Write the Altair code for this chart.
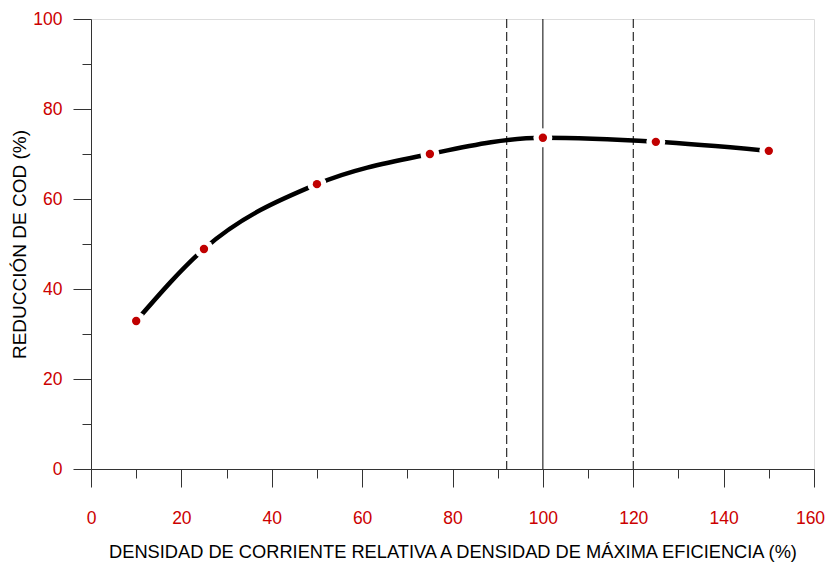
import altair as alt
import pandas as pd

# Data
x_vals = [10, 25, 50, 75, 100, 125, 150]
y_vals = [32.9, 48.9, 63.3, 70.0, 73.6, 72.7, 70.7]
dashed_lines = [92, 120]
solid_lines = [100]
x_ticks = list(range(0, 161, 10))
y_ticks = list(range(0, 101, 10))

x_title = "DENSIDAD DE CORRIENTE RELATIVA A DENSIDAD DE MÁXIMA EFICIENCIA (%)"
y_title = "REDUCCIÓN DE COD (%)"

df = pd.DataFrame({"x": x_vals, "y": y_vals})
df_dash = pd.DataFrame({"x": dashed_lines})
df_solid = pd.DataFrame({"x": solid_lines})

FONT = "Liberation Sans"
RED = "#cc0000"
major = lambda step: {"condition": {"test": f"datum.value % {step} === 0", "value": 18}, "value": 9}

x_scale = alt.Scale(domain=[0, 160], nice=False, zero=False)
y_scale = alt.Scale(domain=[0, 100], nice=False, zero=False)

x_axis = alt.Axis(
    values=x_ticks,
    tickSize=major(20),
    labelExpr="datum.value % 20 === 0 ? datum.label : ''",
    labelColor=RED, labelFont=FONT, labelFontSize=17.5,
    labelPadding=22, labelFlush=False, labelOverlap=False,
    labelOffset={"condition": {"test": "datum.value === 160", "value": -4}, "value": 0},
    title=x_title, titleFont=FONT, titleFontSize=18.25, titleFontWeight="normal",
    titleColor="black", titlePadding=17,
    domainColor="#333", tickColor="#333", grid=False,
)
y_axis = alt.Axis(
    values=y_ticks,
    tickSize=major(20),
    labelExpr="datum.value % 20 === 0 ? datum.label : ''",
    labelColor=RED, labelFont=FONT, labelFontSize=17.5,
    labelPadding=11, labelFlush=False, labelOverlap=False,
    title=y_title, titleFont=FONT, titleFontSize=19, titleFontWeight="normal",
    titleColor="black", titlePadding=3,
    domainColor="#333", tickColor="#333", grid=False,
)

base_x = alt.X("x:Q", scale=x_scale, axis=x_axis)
base_y = alt.Y("y:Q", scale=y_scale, axis=y_axis)

dashed = alt.Chart(df_dash).mark_rule(color="black", strokeWidth=1, strokeDash=[9, 4]).encode(
    x=alt.X("x:Q", scale=x_scale)
)
solid = alt.Chart(df_solid).mark_rule(color="black", strokeWidth=1).encode(
    x=alt.X("x:Q", scale=x_scale)
)
line = alt.Chart(df).mark_line(interpolate="monotone", color="black", strokeWidth=4.5).encode(
    x=base_x, y=base_y
)
halo = alt.Chart(df).mark_circle(size=360, color="white", opacity=1).encode(
    x=alt.X("x:Q", scale=x_scale), y=alt.Y("y:Q", scale=y_scale)
)
dots = alt.Chart(df).mark_circle(size=70, color="#c00000", opacity=1).encode(
    x=alt.X("x:Q", scale=x_scale), y=alt.Y("y:Q", scale=y_scale)
)

chart = alt.layer(line, dashed, solid, halo, dots).properties(
    width=723, height=450,
    autosize=alt.AutoSizeParams(type="none"),
    padding={"left": 83, "top": 11, "right": 11, "bottom": 94},
).configure_view(stroke="#444", strokeWidth=1).configure(background="white")

chart.save("out.html", embed_options={"renderer": "svg", "actions": False})
